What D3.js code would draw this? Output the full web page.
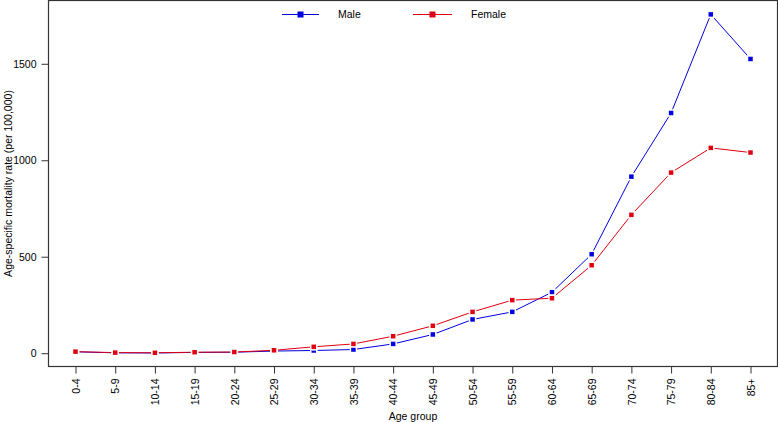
<!DOCTYPE html>
<html>
<head>
<meta charset="utf-8">
<script src="https://cdn.jsdelivr.net/npm/d3@7"></script>
<style>
html,body{margin:0;padding:0;background:#fff;}
svg{display:block;}
text{font-family:"Liberation Sans",Arial,Helvetica,sans-serif;fill:#000;}
</style>
</head>
<body>
<svg id="chart" width="778" height="422"></svg>
<script>
const ageGroups = ["0-4","5-9","10-14","15-19","20-24","25-29","30-34","35-39","40-44","45-49","50-54","55-59","60-64","65-69","70-74","75-79","80-84","85+"];
const maleRates = [7, 2, 1, 4, 5, 11, 14, 19, 48, 97, 175, 214, 316, 513, 915, 1245, 1756, 1525];
const femaleRates = [8, 3, 2, 5, 6, 15, 33, 48, 88, 142, 214, 275, 285, 456, 717, 936, 1064, 1040];
const yTicks = [0, 500, 1000, 1500];
const seriesNames = ["Male", "Female"];
const seriesColors = ["#0000e0", "#e0000f"];

const svg = d3.select("#chart");
const mLeft = 48.5, mRight = 777.5, mTop = 0.5, mBottom = 366.5;
const fs = "10.5px";

const x = d3.scaleLinear().domain([-0.68, ageGroups.length - 1 + 0.68]).range([mLeft, mRight]);
const y = d3.scaleLinear().domain([-69, 1828]).range([mBottom, mTop]);

// Y axis
const yAxis = d3.axisLeft(y).tickValues(yTicks).tickSize(7).tickPadding(5).tickFormat(d3.format("d"));
const gy = svg.append("g").attr("transform", `translate(${mLeft},0)`).call(yAxis);
gy.select(".domain").remove();
gy.selectAll(".tick line").attr("stroke", "#333");
gy.selectAll(".tick text").style("font-size", fs);

// X axis
const xAxis = d3.axisBottom(x).tickValues(d3.range(ageGroups.length)).tickFormat(i => ageGroups[i]).tickSize(7).tickPadding(5);
const gx = svg.append("g").attr("transform", `translate(0,${mBottom})`).call(xAxis);
gx.select(".domain").remove();
gx.selectAll(".tick line").attr("stroke", "#333");
gx.selectAll(".tick text")
  .style("font-size", fs)
  .attr("transform", "rotate(-90)")
  .attr("text-anchor", "end")
  .attr("x", -12)
  .attr("y", 0)
  .attr("dy", "0.35em");

// Box
svg.append("rect").attr("x", mLeft).attr("y", mTop).attr("width", mRight - mLeft).attr("height", mBottom - mTop)
  .attr("fill", "none").attr("stroke", "#333").attr("stroke-width", 1.2);

// Series
const allSeries = [maleRates, femaleRates];
const line = d3.line().x((d, i) => x(i)).y(d => y(d));
allSeries.forEach((vals, si) => {
  svg.append("path").datum(vals).attr("d", line).attr("fill", "none")
    .attr("stroke", seriesColors[si]).attr("stroke-width", 1);
});
allSeries.forEach((vals, si) => {
  svg.append("g").selectAll("rect").data(vals).join("rect")
    .attr("x", (d, i) => x(i) - 3).attr("y", d => y(d) - 3)
    .attr("width", 6).attr("height", 6)
    .attr("fill", seriesColors[si]).attr("stroke", "#fff").attr("stroke-width", 1.5);
});

// Legend
const legendItems = [{x1: 282, x2: 319, tx: 338}, {x1: 413, x2: 452, tx: 471}];
legendItems.forEach((it, i) => {
  const g = svg.append("g");
  g.append("line").attr("x1", it.x1).attr("x2", it.x2).attr("y1", 14.5).attr("y2", 14.5)
    .attr("stroke", seriesColors[i]).attr("stroke-width", 1);
  g.append("rect").attr("x", (it.x1 + it.x2) / 2 - 3).attr("y", 11.5).attr("width", 6).attr("height", 6)
    .attr("fill", seriesColors[i]);
  g.append("text").attr("x", it.tx).attr("y", 14.5).attr("dy", "0.35em").style("font-size", fs).text(seriesNames[i]);
});

// Axis titles
svg.append("text").attr("transform", `translate(8,${(mTop + mBottom) / 2}) rotate(-90)`)
  .attr("text-anchor", "middle").attr("dy", "0.35em").style("font-size", fs)
  .text("Age-specific mortality rate (per 100,000)");
svg.append("text").attr("x", (mLeft + mRight) / 2).attr("y", 420).attr("text-anchor", "middle")
  .style("font-size", fs).text("Age group");
</script>
</body>
</html>
